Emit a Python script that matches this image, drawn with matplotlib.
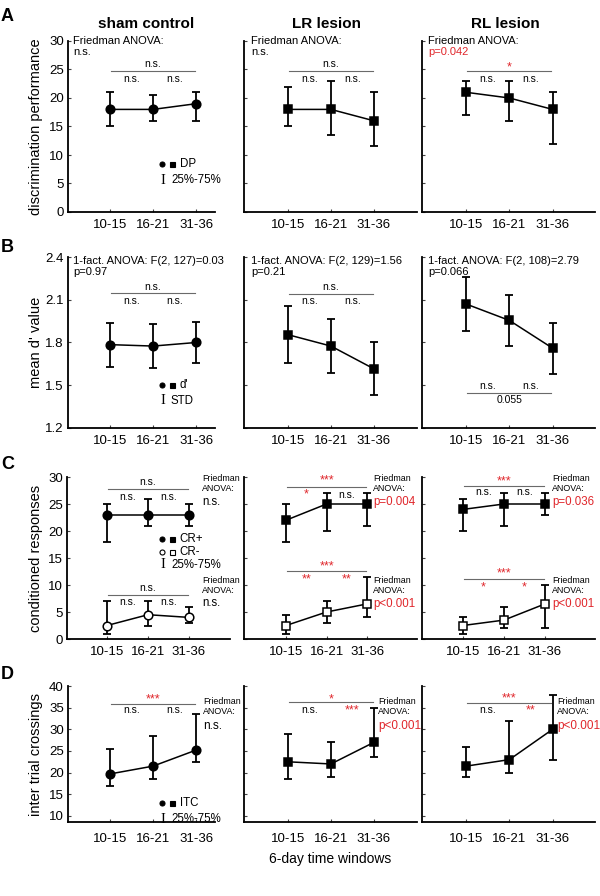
import matplotlib
matplotlib.use("Agg")
import matplotlib.pyplot as plt
from matplotlib.lines import Line2D

plt.rcParams['font.family'] = ['Liberation Sans', 'DejaVu Sans']

# ---------------- data ----------------
windows = ['10-15', '16-21', '31-36']
xpos = [1, 2, 3]

# A: discrimination performance (median, 25%, 75%)
dp_sham_med = [18, 18, 19]
dp_sham_q1 = [15, 16, 16]
dp_sham_q3 = [21, 20.5, 21]
dp_lr_med = [18, 18, 16]
dp_lr_q1 = [15, 13.5, 11.5]
dp_lr_q3 = [22, 23, 21]
dp_rl_med = [21, 20, 18]
dp_rl_q1 = [17, 16, 12]
dp_rl_q3 = [23, 23, 21]

# B: mean d' value (mean, STD)
dpr_sham_mean = [1.785, 1.775, 1.80]
dpr_sham_std = [0.155, 0.155, 0.145]
dpr_lr_mean = [1.855, 1.775, 1.615]
dpr_lr_std = [0.20, 0.19, 0.185]
dpr_rl_mean = [2.07, 1.955, 1.76]
dpr_rl_std = [0.19, 0.18, 0.18]

# C: conditioned responses CR+ / CR- (median, 25%, 75%)
crp_sham_med = [23, 23, 23]
crp_sham_q1 = [18, 21, 21]
crp_sham_q3 = [25, 26, 25]
crp_lr_med = [22, 25, 25]
crp_lr_q1 = [18, 20, 21]
crp_lr_q3 = [25, 27, 27]
crp_rl_med = [24, 25, 25]
crp_rl_q1 = [20, 21, 23]
crp_rl_q3 = [26, 27, 27]
crm_sham_med = [2.5, 4.5, 4]
crm_sham_q1 = [1, 2.5, 3]
crm_sham_q3 = [7, 7, 6]
crm_lr_med = [2.5, 5, 6.5]
crm_lr_q1 = [1, 3, 4]
crm_lr_q3 = [4.5, 7, 11.5]
crm_rl_med = [2.5, 3.5, 6.5]
crm_rl_q1 = [1, 2, 2]
crm_rl_q3 = [4, 6, 10]

# D: inter trial crossings (median, 25%, 75%)
itc_sham_med = [19.7, 21.5, 25.2]
itc_sham_q1 = [17, 18.5, 22.5]
itc_sham_q3 = [25.5, 28.5, 33.5]
itc_lr_med = [22.5, 22, 27]
itc_lr_q1 = [18.5, 19, 23.5]
itc_lr_q3 = [29, 27, 35]
itc_rl_med = [21.5, 23, 30]
itc_rl_q1 = [19, 20, 23]
itc_rl_q3 = [26, 32, 38]

col_titles = ['sham control', 'LR lesion', 'RL lesion']
row_ylabels = ['discrimination performance', "mean d' value",
               'conditioned responses', 'inter trial crossings']

RED = '#e0262b'
GRAY = '#6a6a6a'

W, H = 600, 896
fig = plt.figure(figsize=(W / 100, H / 100), dpi=100)

MS_O = 6.2
MS_S = 5.8


def add_ax(l, r, t, b):
    return fig.add_axes([l / W, 1 - b / H, (r - l) / W, (b - t) / H])


def ftext(x, y, s, **kw):
    kw.setdefault('va', 'center')
    fig.text(x / W, 1 - y / H, s, **kw)


def style(ax, xlim, ylim, yticks, show_ylabels, ticklabel_pad=5):
    ax.set_xlim(*xlim)
    ax.set_ylim(*ylim)
    for s in ['top', 'right']:
        ax.spines[s].set_visible(False)
    for s in ['left', 'bottom']:
        ax.spines[s].set_linewidth(1.3)
    ax.set_xticks(xpos)
    ax.set_xticklabels(windows, fontsize=9.5)
    ax.set_yticks(yticks)
    if show_ylabels:
        ax.set_yticklabels([('%g' % v) for v in yticks], fontsize=9.5)
    else:
        ax.set_yticklabels([])
    ax.tick_params(axis='x', direction='in', length=2.5, width=0.8, color='#444444',
                   pad=ticklabel_pad)
    ax.tick_params(axis='y', direction='in', length=2.5, width=0.8, color='#444444', pad=3)
    ax.patch.set_visible(False)


def series(ax, med, lo, hi, marker, filled=True, ms=6.0):
    yerr = [[m - l for m, l in zip(med, lo)], [h - m for m, h in zip(med, hi)]]
    ax.errorbar(xpos, med, yerr=yerr, fmt='none', ecolor='black', elinewidth=1.3,
                capsize=3.0, capthick=1.3, zorder=2)
    ax.plot(xpos, med, '-', color='black', lw=1.1, zorder=3)
    ax.plot(xpos, med, marker, color='black', ms=ms,
            mfc='black' if filled else 'white', mec='black', mew=1.1, zorder=4, ls='none')


def bracket(ax, y, top, sub, top_y, sub_y, top_red=False, sub_red=(False, False)):
    ax.plot([1.03, 2.97], [y, y], color=GRAY, lw=0.8, zorder=1, clip_on=False)
    ax.text(2, top_y, top, ha='center', va='center', fontsize=7.5 if '*' not in top else 9,
            color=RED if top_red else 'black', clip_on=False)
    for xx, s, r in zip([1.5, 2.5], sub, sub_red):
        ax.text(xx, sub_y, s, ha='center', va='center', fontsize=7.5 if '*' not in s else 9,
                color=RED if r else 'black', clip_on=False)


# pixel geometry
cols_ab = [(68, 215, (0.023, 3.44)), (244, 417, (-0.02, 4.0)), (422, 595, (-0.02, 3.98))]
cols_c = [(67, 230, (0.024, 4.0)), (244, 417, (-0.037, 4.23)), (422, 595, (0.0, 4.22))]

# ---------------- Row A ----------------
A_t, A_b = 41, 212
dp_data = [(dp_sham_med, dp_sham_q1, dp_sham_q3),
           (dp_lr_med, dp_lr_q1, dp_lr_q3),
           (dp_rl_med, dp_rl_q1, dp_rl_q3)]
axA = []
for i, (l, r, xl) in enumerate(cols_ab):
    ax = add_ax(l, r, A_t, A_b)
    style(ax, xl, (0, 30), [0, 5, 10, 15, 20, 25, 30], i == 0)
    med, q1, q3 = dp_data[i]
    series(ax, med, q1, q3, 'o' if i == 0 else 's', ms=MS_O if i == 0 else MS_S)
    axA.append(ax)

bracket(axA[0], 24.7, 'n.s.', ['n.s.', 'n.s.'], 26.0, 23.3)
bracket(axA[1], 24.7, 'n.s.', ['n.s.', 'n.s.'], 26.0, 23.3)
bracket(axA[2], 24.7, '*', ['n.s.', 'n.s.'], 25.4, 23.3, top_red=True)

ftext(73, 41, 'Friedman ANOVA:', fontsize=8)
ftext(73, 52, 'n.s.', fontsize=8)
ftext(251, 41, 'Friedman ANOVA:', fontsize=8)
ftext(251, 52, 'n.s.', fontsize=8)
ftext(428, 41, 'Friedman ANOVA:', fontsize=8)
ftext(428, 52, 'p=0.042', fontsize=8, color=RED)

# ---------------- Row B ----------------
B_t, B_b = 257, 428
dpr_data = [(dpr_sham_mean, dpr_sham_std), (dpr_lr_mean, dpr_lr_std), (dpr_rl_mean, dpr_rl_std)]
axB = []
for i, (l, r, xl) in enumerate(cols_ab):
    ax = add_ax(l, r, B_t, B_b)
    style(ax, xl, (1.2, 2.4), [1.2, 1.5, 1.8, 2.1, 2.4], i == 0)
    ax.set_yticklabels(['1.2', '1.5', '1.8', '2.1', '2.4'] if i == 0 else [])
    m, s = dpr_data[i]
    lo = [a - b for a, b in zip(m, s)]
    hi = [a + b for a, b in zip(m, s)]
    series(ax, m, lo, hi, 'o' if i == 0 else 's', ms=MS_O if i == 0 else MS_S)
    axB.append(ax)

bracket(axB[0], 2.147, 'n.s.', ['n.s.', 'n.s.'], 2.19, 2.093)
bracket(axB[1], 2.14, 'n.s.', ['n.s.', 'n.s.'], 2.19, 2.093)
axB[2].plot([1.03, 2.97], [1.448, 1.448], color=GRAY, lw=0.8)
axB[2].text(1.5, 1.497, 'n.s.', ha='center', va='center', fontsize=7.5)
axB[2].text(2.5, 1.497, 'n.s.', ha='center', va='center', fontsize=7.5)
axB[2].text(2, 1.397, '0.055', ha='center', va='center', fontsize=7.5)

ftext(73, 261, '1-fact. ANOVA: F(2, 127)=0.03', fontsize=8)
ftext(73, 272, 'p=0.97', fontsize=8)
ftext(251, 261, '1-fact. ANOVA: F(2, 129)=1.56', fontsize=8)
ftext(251, 272, 'p=0.21', fontsize=8)
ftext(428, 261, '1-fact. ANOVA: F(2, 108)=2.79', fontsize=8)
ftext(428, 272, 'p=0.066', fontsize=8)

# ---------------- Row C ----------------
C_t, C_b = 477, 639
crp_data = [(crp_sham_med, crp_sham_q1, crp_sham_q3),
            (crp_lr_med, crp_lr_q1, crp_lr_q3),
            (crp_rl_med, crp_rl_q1, crp_rl_q3)]
crm_data = [(crm_sham_med, crm_sham_q1, crm_sham_q3),
            (crm_lr_med, crm_lr_q1, crm_lr_q3),
            (crm_rl_med, crm_rl_q1, crm_rl_q3)]
axC = []
for i, (l, r, xl) in enumerate(cols_c):
    ax = add_ax(l, r, C_t, C_b)
    style(ax, xl, (0, 30), [0, 5, 10, 15, 20, 25, 30], i == 0)
    mk = 'o' if i == 0 else 's'
    ms = MS_O if i == 0 else MS_S
    series(ax, *crp_data[i], mk, True, ms)
    series(ax, *crm_data[i], mk, False, ms)
    axC.append(ax)

bracket(axC[0], 27.8, 'n.s.', ['n.s.', 'n.s.'], 29.1, 26.35)
bracket(axC[0], 8.15, 'n.s.', ['n.s.', 'n.s.'], 9.45, 6.9)
bracket(axC[1], 28.2, '***', ['*', 'n.s.'], 29.3, 26.7, True, (True, False))
bracket(axC[1], 12.65, '***', ['**', '**'], 13.5, 11.0, True, (True, True))
bracket(axC[2], 28.3, '***', ['n.s.', 'n.s.'], 29.2, 27.2, True)
bracket(axC[2], 11.1, '***', ['*', '*'], 12.2, 9.6, True, (True, True))

for (x0, pstr1, pstr2) in [(202, 'n.s.', 'n.s.'), (373, 'p=0.004', 'p<0.001'),
                           (552, 'p=0.036', 'p<0.001')]:
    ftext(x0, 478, 'Friedman', fontsize=6.4)
    ftext(x0, 488.5, 'ANOVA:', fontsize=6.4)
    ftext(x0, 501.5, pstr1, fontsize=8.3, color='black' if pstr1 == 'n.s.' else RED)
    ftext(x0, 580, 'Friedman', fontsize=6.4)
    ftext(x0, 590.5, 'ANOVA:', fontsize=6.4)
    ftext(x0, 603.5, pstr2, fontsize=8.3, color='black' if pstr2 == 'n.s.' else RED)

# ---------------- Row D ----------------
D_t, D_b = 686, 822
itc_data = [(itc_sham_med, itc_sham_q1, itc_sham_q3),
            (itc_lr_med, itc_lr_q1, itc_lr_q3),
            (itc_rl_med, itc_rl_q1, itc_rl_q3)]
axD = []
for i, (l, r, xl) in enumerate(cols_ab):
    ax = add_ax(l, r, D_t, D_b)
    style(ax, xl, (8.6, 40), [10, 15, 20, 25, 30, 35, 40], i == 0, ticklabel_pad=8)
    series(ax, *itc_data[i], 'o' if i == 0 else 's', True, MS_O if i == 0 else MS_S)
    axD.append(ax)

bracket(axD[0], 35.9, '***', ['n.s.', 'n.s.'], 36.8, 34.4, True)
bracket(axD[1], 36.2, '*', ['n.s.', '***'], 36.9, 34.4, True, (False, True))
bracket(axD[2], 36.1, '***', ['n.s.', '**'], 37.1, 34.4, True, (False, True))

for (x0, pstr) in [(203, 'n.s.'), (378, 'p<0.001'), (557, 'p<0.001')]:
    ftext(x0, 701.5, 'Friedman', fontsize=6.4)
    ftext(x0, 712, 'ANOVA:', fontsize=6.4)
    ftext(x0, 726, pstr, fontsize=8.5, color='black' if pstr == 'n.s.' else RED)

axD[1].set_xlabel('6-day time windows', fontsize=10, labelpad=5)

# ---------------- legends (sham panels) ----------------
def leg_marker(x, y, marker, filled=True, ms=3.6):
    fig.add_artist(Line2D([x / W], [1 - y / H], marker=marker, ms=ms, color='black',
                          mfc='black' if filled else 'white', mec='black', mew=0.8,
                          transform=fig.transFigure))


def leg_bar(x, y, label):
    ftext(x, y, 'I', fontsize=10.5, family='Liberation Serif', ha='center')
    ftext(x + 8.5, y, label, fontsize=8.3)


for (y, label) in [(164, 'DP'), (385, "d'"), (803, 'ITC')]:
    leg_marker(162, y, 'o')
    leg_marker(171.5, y, 's')
    ftext(179.5, y, label, fontsize=8.3)
leg_bar(162.5, 180, '25%-75%')
leg_bar(162.5, 401, 'STD')
leg_bar(162.5, 819, '25%-75%')

leg_marker(162, 539, 'o')
leg_marker(171.5, 539, 's')
ftext(179.5, 539, 'CR+', fontsize=8.3)
leg_marker(162, 552, 'o', False)
leg_marker(171.5, 552, 's', False)
ftext(179.5, 552, 'CR-', fontsize=8.3)
leg_bar(162.5, 565, '25%-75%')

# ---------------- titles, letters, ylabels ----------------
for xc, t in zip([146, 326, 505], col_titles):
    ftext(xc, 24, t, fontsize=11, fontweight='bold', ha='center')

for yc, letter in zip([16.5, 247, 464, 674], 'ABCD'):
    ftext(1, yc, letter, fontsize=13, fontweight='bold', ha='left')

for yc, lab in zip([(A_t + A_b) / 2, (B_t + B_b) / 2, (C_t + C_b) / 2, (D_t + D_b) / 2],
                   row_ylabels):
    ftext(36, yc, lab, fontsize=10.5, rotation=90, ha='center')

fig.savefig('out.png', dpi=100)
